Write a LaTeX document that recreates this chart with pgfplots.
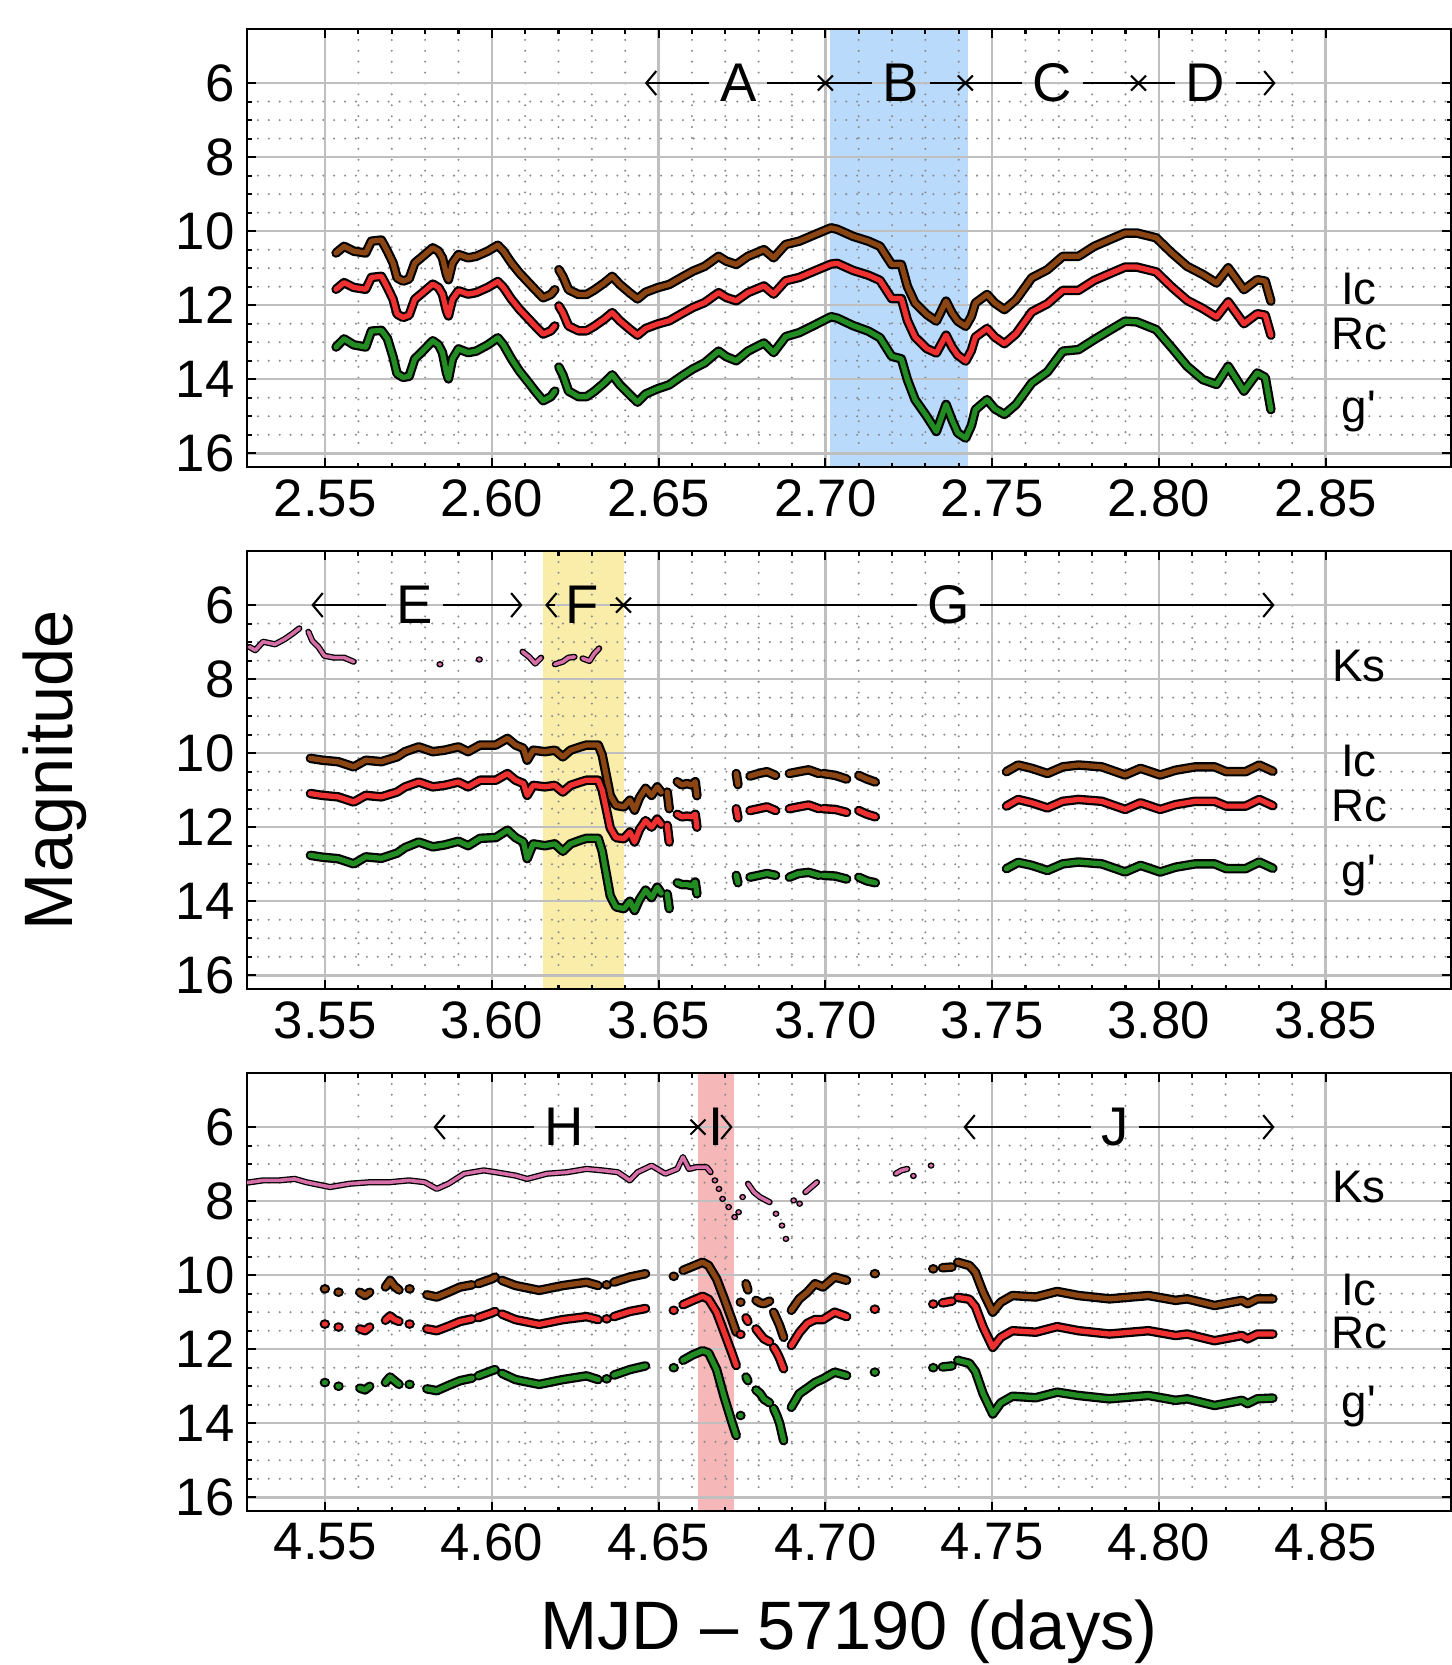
\documentclass[border=0pt]{standalone}
\usepackage{fontspec}
\setmainfont{Liberation Sans}
\usepackage{pgfplots}
\usepackage{pgfplotstable}
\pgfplotsset{compat=1.18}
\usetikzlibrary{arrows.meta}

\definecolor{icc}{RGB}{139,69,19}
\definecolor{rcc}{RGB}{238,48,48}
\definecolor{gpc}{RGB}{34,139,34}
\definecolor{ksc}{RGB}{214,110,168}
\definecolor{bandB}{RGB}{185,218,250}
\definecolor{bandF}{RGB}{250,237,170}
\definecolor{bandI}{RGB}{245,183,183}

% panel 1: x, Ic, Rc, g'
\pgfplotstableread{
x ic rc gp
2.5533 10.59 11.57 13.13
2.5557 10.41 11.39 12.91
2.5586 10.54 11.52 13.07
2.5622 10.59 11.57 13.13
2.5639 10.27 11.25 12.70
2.5669 10.24 11.22 12.68
2.5687 10.54 11.52 12.90
2.5704 10.86 11.84 13.40
2.5716 11.26 12.24 13.85
2.5734 11.35 12.33 13.95
2.5752 11.29 12.27 13.92
2.5769 10.86 11.84 13.45
2.5793 10.68 11.66 13.24
2.5823 10.45 11.43 12.96
2.5840 10.54 11.52 13.07
2.5852 10.72 11.70 13.28
2.5864 11.17 12.15 13.82
2.5870 11.31 12.29 13.99
2.5882 10.86 11.84 13.45
2.5900 10.63 11.61 13.18
2.5929 10.72 11.70 13.28
2.5953 10.68 11.66 13.24
2.5988 10.54 11.52 13.07
2.6018 10.38 11.36 12.88
2.6035 10.54 11.52 13.07
2.6059 10.86 11.84 13.45
2.6083 11.13 12.11 13.78
2.6106 11.35 12.33 14.04
2.6130 11.58 12.56 14.32
2.6154 11.80 12.78 14.58
2.6177 11.71 12.69 14.47
2.6189 11.58 12.56 14.32
2.6195 nan nan nan
2.6201 11.04 12.02 13.67
2.6213 11.22 12.20 13.88
2.6230 11.58 12.56 14.32
2.6260 11.71 12.69 14.47
2.6284 11.71 12.69 14.47
2.6307 11.59 12.57 14.33
2.6337 11.40 12.38 14.10
2.6361 11.22 12.20 13.88
2.6384 11.44 12.42 14.15
2.6414 11.67 12.65 14.42
2.6437 11.83 12.81 14.62
2.6461 11.65 12.63 14.40
2.6496 11.53 12.51 14.26
2.6532 11.44 12.42 14.15
2.6567 11.26 12.24 13.93
2.6603 11.08 12.06 13.72
2.6638 10.95 11.93 13.56
2.6680 10.68 11.66 13.24
2.6703 10.81 11.79 13.39
2.6733 10.90 11.88 13.50
2.6768 10.68 11.66 13.24
2.6816 10.50 11.48 13.02
2.6845 10.72 11.70 13.28
2.6881 10.36 11.34 12.85
2.6922 10.27 11.25 12.74
2.6969 10.09 11.07 12.53
2.7017 9.91 10.89 12.31
2.7036 9.95 10.87 12.35
2.7083 10.14 11.06 12.55
2.7129 10.27 11.19 12.70
2.7164 10.41 11.33 12.88
2.7199 10.90 11.82 13.38
2.7228 10.90 11.82 13.45
2.7246 11.49 12.41 14.01
2.7269 11.94 12.86 14.55
2.7304 12.25 13.17 15.00
2.7333 12.43 13.29 15.41
2.7362 11.89 12.81 14.68
2.7380 12.21 13.13 15.10
2.7397 12.43 13.35 15.45
2.7421 12.57 13.51 15.59
2.7438 12.30 13.22 15.25
2.7450 11.94 12.86 14.82
2.7485 11.71 12.63 14.55
2.7508 11.94 12.86 14.80
2.7537 12.12 13.04 14.95
2.7572 11.85 12.77 14.68
2.7619 11.26 12.18 14.10
2.7666 11.04 11.96 13.80
2.7712 10.68 11.60 13.24
2.7759 10.68 11.60 13.20
2.7806 10.41 11.33 12.93
2.7852 10.23 11.15 12.68
2.7899 10.05 10.97 12.43
2.7934 10.05 10.97 12.45
2.7992 10.18 11.10 12.66
2.8039 10.59 11.51 13.15
2.8085 10.95 11.87 13.65
2.8132 11.17 12.09 14.01
2.8173 11.40 12.32 14.14
2.8208 10.99 11.91 13.65
2.8255 11.58 12.50 14.32
2.8295 11.31 12.23 13.83
2.8319 11.35 12.27 13.95
2.8336 11.89 12.81 14.82
}\pone

% panel 2: x, Ic, Rc, g'
\pgfplotstableread{
x ic rc gp
3.5456 10.14 11.09 12.76
3.5492 10.19 11.14 12.81
3.5539 10.23 11.18 12.85
3.5586 10.37 11.32 12.99
3.5622 10.19 11.14 12.80
3.5669 10.23 11.18 12.84
3.5716 10.10 11.05 12.70
3.5740 9.96 10.91 12.55
3.5781 9.83 10.78 12.40
3.5823 9.96 10.91 12.53
3.5858 9.92 10.87 12.48
3.5900 9.83 10.78 12.38
3.5929 9.96 10.91 12.50
3.5965 9.78 10.73 12.30
3.6012 9.78 10.73 12.28
3.6047 9.60 10.55 12.08
3.6071 9.78 10.73 12.28
3.6095 9.87 10.82 12.40
3.6106 10.19 11.14 12.85
3.6124 9.92 10.87 12.45
3.6159 9.96 10.91 12.50
3.6189 9.92 10.87 12.45
3.6213 10.10 11.05 12.65
3.6236 9.92 10.87 12.45
3.6266 9.83 10.78 12.35
3.6284 9.78 10.73 12.30
3.6319 9.78 10.73 12.30
3.6331 10.05 11.00 12.65
3.6343 10.59 11.50 13.25
3.6355 11.14 12.02 13.85
3.6372 11.41 12.28 14.15
3.6396 11.45 12.31 14.20
3.6414 11.27 12.13 14.00
3.6428 11.54 12.40 14.25
3.6443 11.20 12.06 13.95
3.6461 10.95 11.82 13.70
3.6479 11.14 12.00 13.90
3.6496 10.91 11.78 13.62
3.6508 11.05 11.92 13.78
3.6515 nan nan nan
3.6526 11.05 11.95 13.80
3.6532 11.50 12.40 14.20
3.6540 nan nan nan
3.6556 10.77 11.65 13.50
3.6570 10.86 11.72 13.55
3.6585 10.82 11.70 13.55
3.6600 10.86 11.72 13.58
3.6610 10.77 11.65 13.48
3.6615 11.15 12.00 13.80
3.6620 nan nan nan
3.6733 10.55 11.50 13.30
3.6738 10.85 11.75 13.50
3.6745 nan nan nan
3.6774 10.62 11.55 13.35
3.6800 10.55 11.50 13.30
3.6825 10.50 11.45 13.25
3.6851 10.60 11.55 13.30
3.6860 nan nan nan
3.6892 10.55 11.50 13.35
3.6920 10.50 11.45 13.25
3.6950 10.45 11.40 13.22
3.6981 10.55 11.50 13.30
3.6987 nan nan nan
3.6993 10.55 11.50 13.30
3.7030 10.60 11.52 13.32
3.7064 10.70 11.60 13.40
3.7070 nan nan nan
3.7100 10.60 11.55 13.35
3.7125 10.70 11.65 13.45
3.7150 10.78 11.72 13.50
3.7160 nan nan nan
3.7543 10.50 11.43 13.12
3.7578 10.32 11.25 12.95
3.7619 10.41 11.34 13.03
3.7666 10.55 11.48 13.17
3.7712 10.37 11.30 12.99
3.7759 10.32 11.25 12.94
3.7829 10.37 11.30 12.99
3.7899 10.59 11.52 13.21
3.7945 10.41 11.34 13.03
3.8004 10.59 11.52 13.21
3.8050 10.46 11.39 13.08
3.8109 10.37 11.30 12.99
3.8167 10.37 11.30 12.99
3.8202 10.50 11.43 13.12
3.8260 10.50 11.43 13.12
3.8301 10.32 11.25 12.94
3.8342 10.49 11.42 13.11
}\ptwo

\pgfplotstableread{
x ks
3.5273 7.13
3.5291 7.22
3.5314 6.99
3.5350 7.06
3.5379 6.92
3.5403 6.77
3.5423 6.63
3.5435 nan
3.5450 6.72
3.5462 6.97
3.5480 7.13
3.5498 7.37
3.5527 7.42
3.5557 7.42
3.5586 7.53
3.5595 nan
3.5843 7.60
3.5846 7.60
3.5850 nan
3.5961 7.47
3.5964 7.47
3.5970 nan
3.6092 7.26
3.6112 7.40
3.6130 7.58
3.6148 7.42
3.6160 nan
3.6189 7.60
3.6213 7.53
3.6230 7.42
3.6248 7.40
3.6260 nan
3.6272 7.44
3.6293 7.51
3.6307 7.31
3.6322 7.17
}\ptwoks

% panel 3: x, Ic, Rc, g'
\pgfplotstableread{
x ic rc gp
4.5498 10.37 11.32 12.90
4.5501 10.37 11.32 12.90
4.5505 nan nan nan
4.5539 10.46 11.40 13.00
4.5542 10.46 11.40 13.00
4.5545 nan nan nan
4.5604 10.46 11.45 13.05
4.5620 10.55 11.50 13.10
4.5634 10.46 11.40 13.00
4.5640 nan nan nan
4.5681 10.32 11.22 12.90
4.5695 10.14 11.10 12.75
4.5708 10.30 11.20 12.85
4.5722 10.40 11.25 12.95
4.5730 nan nan nan
4.5752 10.37 11.32 12.95
4.5755 10.37 11.32 12.95
4.5760 nan nan nan
4.5805 10.53 11.45 13.07
4.5835 10.59 11.50 13.12
4.5870 10.46 11.38 12.98
4.5905 10.32 11.25 12.85
4.5941 10.26 11.18 12.78
4.5948 nan nan nan
4.5959 10.23 11.15 12.72
4.6000 10.10 11.02 12.58
4.6010 10.05 10.98 12.55
4.6018 nan nan nan
4.6030 10.14 11.05 12.65
4.6071 10.28 11.20 12.82
4.6142 10.41 11.33 12.95
4.6213 10.28 11.20 12.82
4.6284 10.19 11.12 12.72
4.6319 10.28 11.20 12.82
4.6330 nan nan nan
4.6343 10.26 11.18 12.80
4.6346 10.26 11.18 12.80
4.6350 nan nan nan
4.6366 10.19 11.12 12.70
4.6414 10.05 10.98 12.55
4.6461 9.96 10.90 12.45
4.6470 nan nan nan
4.6544 10.03 10.95 12.50
4.6547 10.03 10.95 12.50
4.6550 nan nan nan
4.6573 9.87 10.80 12.30
4.6603 9.76 10.68 12.15
4.6632 9.65 10.57 12.04
4.6650 9.74 10.65 12.10
4.6674 10.10 11.00 12.55
4.6697 10.64 11.55 13.30
4.6721 11.23 12.13 14.00
4.6733 11.54 12.44 14.33
4.6740 nan nan nan
4.6745 10.73 11.60 13.79
4.6747 10.73 11.60 13.79
4.6750 nan nan nan
4.6762 10.23 11.15 12.75
4.6768 10.40 11.25 12.85
4.6775 nan nan nan
4.6792 10.68 11.45 13.10
4.6805 10.75 11.60 13.20
4.6816 10.77 11.72 13.35
4.6833 10.70 11.80 13.45
4.6840 nan nan nan
4.6845 11.00 11.95 13.60
4.6855 11.20 12.10 13.80
4.6863 11.36 12.25 14.00
4.6875 11.68 12.53 14.47
4.6880 nan nan nan
4.6898 10.95 11.90 13.57
4.6922 10.64 11.55 13.20
4.6946 10.46 11.30 13.05
4.6969 10.23 11.20 12.90
4.6993 10.32 11.20 12.80
4.7028 10.05 11.00 12.62
4.7064 10.14 11.12 12.71
4.7070 nan nan nan
4.7147 9.96 10.92 12.62
4.7150 9.96 10.92 12.62
4.7155 nan nan nan
4.7322 9.83 10.78 12.50
4.7325 9.83 10.78 12.50
4.7330 nan nan nan
4.7351 9.80 10.75 12.48
4.7380 9.78 10.70 12.45
4.7390 nan nan nan
4.7397 9.65 10.60 12.30
4.7432 9.74 10.65 12.38
4.7450 9.92 10.85 12.60
4.7473 10.46 11.40 13.20
4.7502 11.00 11.95 13.75
4.7526 10.73 11.68 13.45
4.7561 10.55 11.50 13.27
4.7631 10.59 11.54 13.31
4.7695 10.44 11.39 13.16
4.7759 10.55 11.50 13.25
4.7852 10.64 11.59 13.34
4.7969 10.55 11.50 13.25
4.8050 10.68 11.63 13.38
4.8085 10.64 11.59 13.34
4.8167 10.82 11.77 13.52
4.8249 10.68 11.63 13.38
4.8266 10.77 11.72 13.47
4.8295 10.64 11.59 13.34
4.8342 10.64 11.59 13.32
}\pthree

\pgfplotstableread{
x ks
4.5267 7.50
4.5314 7.44
4.5362 7.44
4.5409 7.40
4.5444 7.49
4.5515 7.62
4.5574 7.53
4.5634 7.49
4.5693 7.49
4.5752 7.44
4.5799 7.49
4.5835 7.67
4.5870 7.53
4.5917 7.26
4.5976 7.17
4.6012 7.22
4.6071 7.31
4.6106 7.40
4.6165 7.26
4.6225 7.22
4.6284 7.13
4.6331 7.17
4.6378 7.22
4.6414 7.44
4.6437 7.22
4.6479 7.04
4.6520 7.26
4.6556 7.13
4.6573 6.81
4.6591 7.13
4.6615 7.08
4.6644 7.08
4.6656 7.22
4.6662 nan
4.6668 7.44
4.6670 7.44
4.6674 nan
4.6680 7.67
4.6682 7.67
4.6686 nan
4.6691 7.94
4.6693 7.94
4.6700 nan
4.6709 8.16
4.6711 8.16
4.6715 nan
4.6727 8.43
4.6729 8.43
4.6733 nan
4.6739 8.30
4.6741 8.30
4.6745 nan
4.6751 7.89
4.6753 7.89
4.6760 nan
4.6768 7.53
4.6786 7.76
4.6804 7.89
4.6833 8.03
4.6840 nan
4.6851 8.34
4.6853 8.34
4.6858 nan
4.6869 8.66
4.6871 8.66
4.6875 nan
4.6881 9.02
4.6883 9.02
4.6890 nan
4.6904 7.98
4.6906 7.98
4.6912 nan
4.6922 8.07
4.6924 8.07
4.6930 nan
4.6940 7.76
4.6975 7.49
4.6980 nan
4.7211 7.26
4.7228 7.17
4.7246 7.13
4.7252 nan
4.7263 7.32
4.7265 7.32
4.7270 nan
4.7316 7.04
4.7318 7.04
}\pthreeks

\pgfplotsset{
  ol/.style={black, line width=0.95mm, line join=round, line cap=round, mark=none},
  fc/.style={#1, line width=0.52mm, line join=round, line cap=round, mark=none},
  olk/.style={black, line width=0.62mm, line join=round, line cap=round, mark=none},
  fck/.style={ksc, line width=0.36mm, line join=round, line cap=round, mark=none},
  panel/.style={
    width=120.4mm, height=43.8mm, scale only axis,
    anchor=north west,
    ymin=4.54, ymax=16.37, y dir=reverse,
    ytick={6,8,10,12,14,16}, minor y tick num=3,
    minor x tick num=4,
    grid=both,
    major grid style={draw=black!25, line width=0.7pt},
    minor grid style={draw=black!45, line width=0.65pt, line cap=round, dash pattern=on 0pt off 3.1pt},
    tick align=inside,
    major tick length=0.9mm, minor tick length=0.45mm,
    every tick/.style={black, line width=0.6pt},
    axis line style={black, line width=0.8pt},
    tick label style={font=\fontsize{15}{18}\selectfont},
    /pgf/number format/assume math mode=true,
    x tick label style={/pgf/number format/fixed, /pgf/number format/fixed zerofill, /pgf/number format/precision=2},
    unbounded coords=jump,
    set layers,
  },
}
\tikzset{
  ann/.style={line width=0.6pt},
  tipr/.style={ann, -{Straight Barb[length=1mm, width=2.4mm]}},
  tipl/.style={ann, {Straight Barb[length=1mm, width=2.4mm]}-},
  lett/.style={font=\fontsize{15.5}{18}\selectfont, inner xsep=1mm, inner ysep=0pt},
  side/.style={font=\fontsize{13}{16}\selectfont, anchor=base},
}
\newcommand{\crossat}[1]{\draw[ann] (#1) ++(-0.75mm,-0.75mm) -- ++(1.5mm,1.5mm) ++(-1.5mm,0mm) -- ++(1.5mm,-1.5mm);}

\begin{document}
\begin{tikzpicture}

% ---------- panel 1 ----------
\begin{axis}[panel, at={(24.7mm,-2.9mm)},
  xmin=2.5266, xmax=2.8876,
  xtick={2.55,2.60,2.65,2.70,2.75,2.80,2.85}]
\begin{pgfonlayer}{axis background}
\fill[bandB] (axis cs:2.7013,4.54) rectangle (axis cs:2.7427,16.37);
\end{pgfonlayer}
\addplot[ol] table[x=x,y=ic]{\pone};
\addplot[fc=icc] table[x=x,y=ic]{\pone};
\addplot[ol] table[x=x,y=rc]{\pone};
\addplot[fc=rcc] table[x=x,y=rc]{\pone};
\addplot[ol] table[x=x,y=gp]{\pone};
\addplot[fc=gpc] table[x=x,y=gp]{\pone};
\node[lett] (A) at (axis cs:2.6739,6) {A};
\node[lett] (B) at (axis cs:2.7226,6) {B};
\node[lett] (C) at (axis cs:2.7680,6) {C};
\node[lett] (D) at (axis cs:2.8140,6) {D};
\draw[tipl] (axis cs:2.6459,6) -- (A.west);
\draw[ann] (A.east) -- (axis cs:2.7000,6) -- (B.west);
\draw[ann] (B.east) -- (axis cs:2.7420,6) -- (C.west);
\draw[ann] (C.east) -- (axis cs:2.7939,6) -- (D.west);
\draw[tipr] (D.east) -- (axis cs:2.8350,6);
\crossat{axis cs:2.7000,6}
\crossat{axis cs:2.7420,6}
\crossat{axis cs:2.7939,6}
\node[side] at (axis cs:2.860,11.98) {Ic};
\node[side] at (axis cs:2.860,13.20) {Rc};
\node[side] at (axis cs:2.860,15.18) {g\textquotesingle};
\end{axis}

% ---------- panel 2 ----------
\begin{axis}[panel, at={(24.7mm,-55.1mm)},
  xmin=3.5266, xmax=3.8876,
  xtick={3.55,3.60,3.65,3.70,3.75,3.80,3.85}]
\begin{pgfonlayer}{axis background}
\fill[bandF] (axis cs:3.6153,4.54) rectangle (axis cs:3.6395,16.37);
\end{pgfonlayer}
\addplot[olk] table[x=x,y=ks]{\ptwoks};
\addplot[fck] table[x=x,y=ks]{\ptwoks};
\addplot[ol] table[x=x,y=ic]{\ptwo};
\addplot[fc=icc] table[x=x,y=ic]{\ptwo};
\addplot[ol] table[x=x,y=rc]{\ptwo};
\addplot[fc=rcc] table[x=x,y=rc]{\ptwo};
\addplot[ol] table[x=x,y=gp]{\ptwo};
\addplot[fc=gpc] table[x=x,y=gp]{\ptwo};
\node[lett] (E) at (axis cs:3.5768,6) {E};
\node[lett] (F) at (axis cs:3.6271,6) {F};
\node[lett] (G) at (axis cs:3.7369,6) {G};
\draw[tipl] (axis cs:3.5459,6) -- (E.west);
\draw[tipr] (E.east) -- (axis cs:3.6092,6);
\draw[tipl] (axis cs:3.6160,6) -- (F.west);
\draw[ann] (F.east) -- (axis cs:3.6395,6) -- (G.west);
\draw[tipr] (G.east) -- (axis cs:3.8347,6);
\crossat{axis cs:3.6395,6}
\node[side] at (axis cs:3.860,8.07) {Ks};
\node[side] at (axis cs:3.860,10.64) {Ic};
\node[side] at (axis cs:3.860,11.84) {Rc};
\node[side] at (axis cs:3.860,13.61) {g\textquotesingle};
\end{axis}

% ---------- panel 3 ----------
\begin{axis}[panel, at={(24.7mm,-107.3mm)},
  xmin=4.5266, xmax=4.8876,
  xtick={4.55,4.60,4.65,4.70,4.75,4.80,4.85}]
\begin{pgfonlayer}{axis background}
\fill[bandI] (axis cs:4.6618,4.54) rectangle (axis cs:4.6726,16.37);
\end{pgfonlayer}
\addplot[olk] table[x=x,y=ks]{\pthreeks};
\addplot[fck] table[x=x,y=ks]{\pthreeks};
\addplot[ol] table[x=x,y=ic]{\pthree};
\addplot[fc=icc] table[x=x,y=ic]{\pthree};
\addplot[ol] table[x=x,y=rc]{\pthree};
\addplot[fc=rcc] table[x=x,y=rc]{\pthree};
\addplot[ol] table[x=x,y=gp]{\pthree};
\addplot[fc=gpc] table[x=x,y=gp]{\pthree};
\node[lett] (H) at (axis cs:4.6217,6) {H};
\node[lett, inner xsep=0.5mm] (I) at (axis cs:4.6673,6) {I};
\node[lett] (J) at (axis cs:4.7869,6) {J};
\draw[tipl] (axis cs:4.5825,6) -- (H.west);
\draw[ann] (H.east) -- (axis cs:4.6618,6);
\draw[tipr] (I.east) -- (axis cs:4.6722,6);
\crossat{axis cs:4.6618,6}
\draw[tipl] (axis cs:4.7414,6) -- (J.west);
\draw[tipr] (J.east) -- (axis cs:4.8347,6);
\node[side] at (axis cs:4.860,8.05) {Ks};
\node[side] at (axis cs:4.860,10.82) {Ic};
\node[side] at (axis cs:4.860,11.99) {Rc};
\node[side] at (axis cs:4.860,13.84) {g\textquotesingle};
\end{axis}

\node[rotate=90, anchor=base, font=\fontsize{19.5}{23}\selectfont] at (7.2mm,-77mm) {Magnitude};
\node[anchor=base, font=\fontsize{19.5}{23}\selectfont] at (84.9mm,-164.9mm) {MJD -- 57190 (days)};

\pgfresetboundingbox
\useasboundingbox (0,0) rectangle (145.1mm,-166.5mm);
\end{tikzpicture}
\end{document}
